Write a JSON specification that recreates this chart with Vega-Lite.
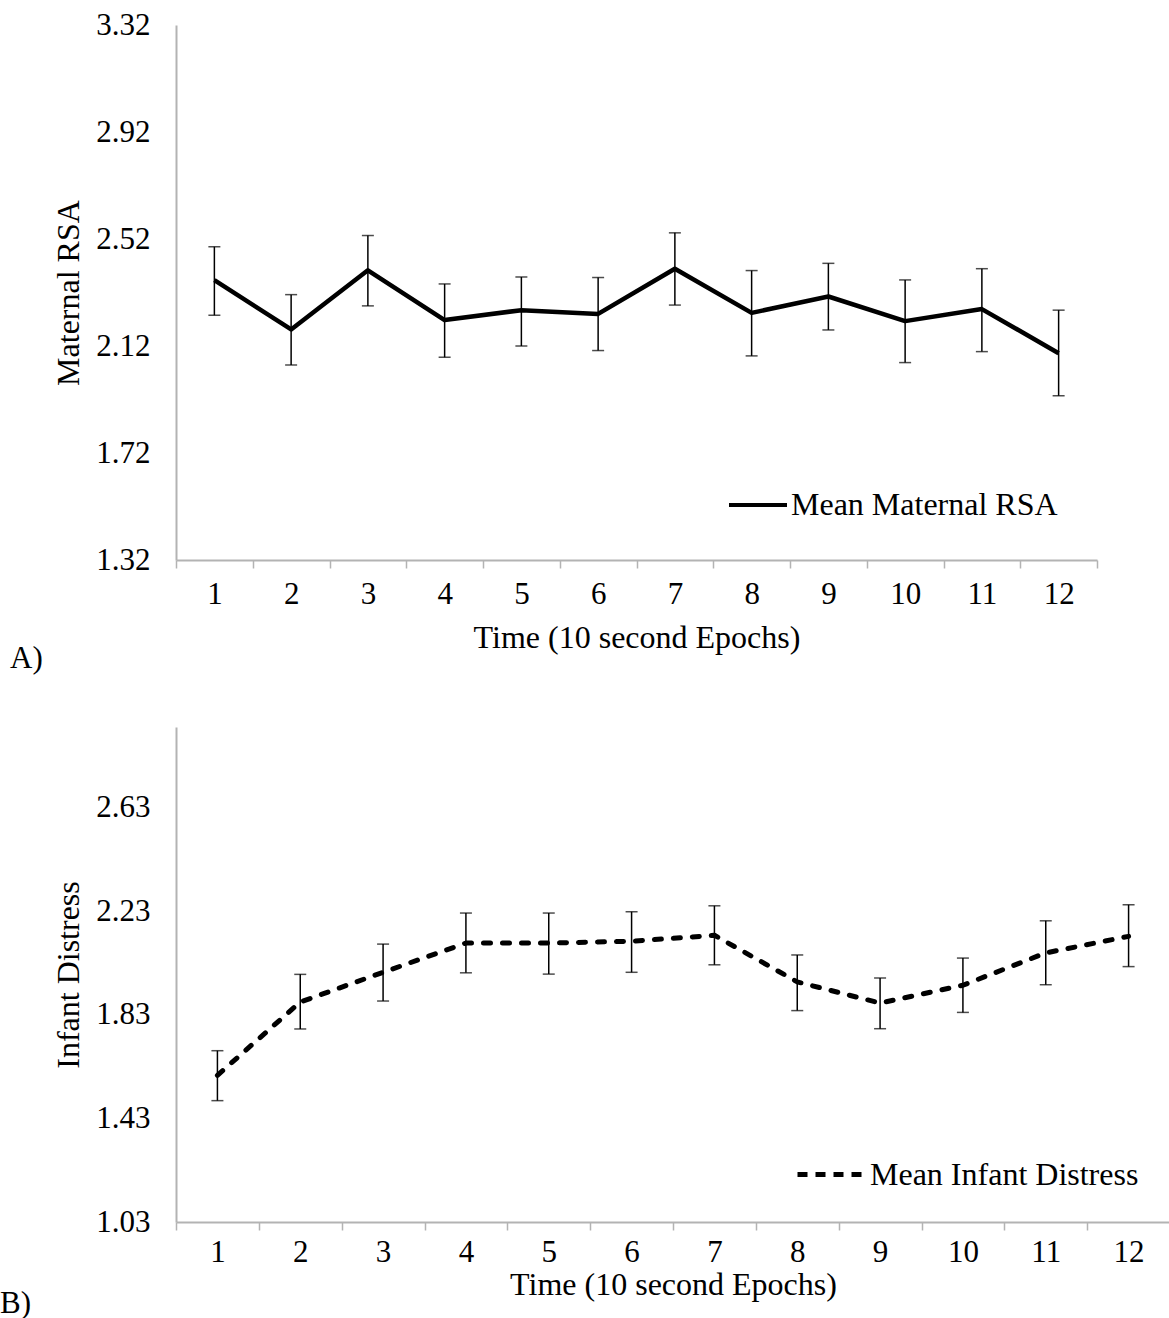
{
  "$schema": "https://vega.github.io/schema/vega-lite/v6.json",
  "padding": {"left": 0, "top": 9, "right": 0, "bottom": 0},
  "background": "white",
  "spacing": 53,
  "config": {
    "font": "Liberation Serif",
    "view": {"stroke": null},
    "axis": {
      "labelFont": "Liberation Serif", "titleFont": "Liberation Serif",
      "labelFontSize": 31, "titleFontSize": 32,
      "labelColor": "#000000", "titleColor": "#000000", "titleFontWeight": "normal",
      "grid": false, "domainColor": "#b3b3b3", "domainWidth": 2,
      "tickColor": "#b3b3b3", "tickWidth": 1.5
    },
    "title": {"font": "Liberation Serif", "fontSize": 31, "fontWeight": "normal", "color": "#000000"},
    "legend": {"labelFont": "Liberation Serif", "labelFontSize": 32, "labelColor": "#000000", "labelLimit": 600, "padding": 0}
  },
  "resolve": {"scale": {"x": "independent", "y": "independent", "color": "independent"}, "legend": {"color": "independent"}},
  "vconcat": [
    {
      "width": 921, "height": 535,
      "title": {"text": "A)", "orient": "bottom", "anchor": "start", "frame": "group", "dx": -166, "offset": -9},
      "data": {"values": [
        {"t": 1, "mean": 2.366, "lo": 2.235, "hi": 2.491, "series": "Mean Maternal RSA"},
        {"t": 2, "mean": 2.182, "lo": 2.049, "hi": 2.312, "series": "Mean Maternal RSA"},
        {"t": 3, "mean": 2.403, "lo": 2.270, "hi": 2.533, "series": "Mean Maternal RSA"},
        {"t": 4, "mean": 2.217, "lo": 2.078, "hi": 2.352, "series": "Mean Maternal RSA"},
        {"t": 5, "mean": 2.254, "lo": 2.120, "hi": 2.378, "series": "Mean Maternal RSA"},
        {"t": 6, "mean": 2.240, "lo": 2.103, "hi": 2.376, "series": "Mean Maternal RSA"},
        {"t": 7, "mean": 2.409, "lo": 2.273, "hi": 2.543, "series": "Mean Maternal RSA"},
        {"t": 8, "mean": 2.244, "lo": 2.083, "hi": 2.402, "series": "Mean Maternal RSA"},
        {"t": 9, "mean": 2.305, "lo": 2.180, "hi": 2.429, "series": "Mean Maternal RSA"},
        {"t": 10, "mean": 2.213, "lo": 2.058, "hi": 2.367, "series": "Mean Maternal RSA"},
        {"t": 11, "mean": 2.258, "lo": 2.099, "hi": 2.409, "series": "Mean Maternal RSA"},
        {"t": 12, "mean": 2.093, "lo": 1.934, "hi": 2.254, "series": "Mean Maternal RSA"}
      ]},
      "encoding": {
        "x": {"field": "t", "type": "ordinal", "scale": {"type": "band", "paddingInner": 0, "paddingOuter": 0},
              "axis": {"title": "Time (10 second Epochs)", "labelAngle": 0, "tickBand": "extent", "tickSize": 8, "labelPadding": 11, "titlePadding": 13}}
      },
      "layer": [
        {"mark": {"type": "rule", "color": "#000000", "strokeWidth": 1.5},
         "encoding": {"y": {"field": "lo", "type": "quantitative"}, "y2": {"field": "hi"}}},
        {"mark": {"type": "tick", "color": "#000000", "size": 12, "thickness": 1.5},
         "encoding": {"y": {"field": "lo", "type": "quantitative"}}},
        {"mark": {"type": "tick", "color": "#000000", "size": 12, "thickness": 1.5},
         "encoding": {"y": {"field": "hi", "type": "quantitative"}}},
        {"mark": {"type": "line", "strokeWidth": 4.5, "strokeJoin": "round"},
         "encoding": {
           "y": {"field": "mean", "type": "quantitative",
                 "scale": {"domain": [1.32, 3.32], "nice": false, "zero": false},
                 "axis": {"title": "Maternal RSA", "values": [1.32, 1.72, 2.12, 2.52, 2.92, 3.32], "format": ".2f",
                          "ticks": false, "tickSize": 0, "labelPadding": 26, "titlePadding": 10, "labelFlush": false, "labelOverlap": false}},
           "color": {"field": "series", "type": "nominal", "scale": {"range": ["#000000"]},
                     "legend": {"title": null, "orient": "bottom-right", "offset": 39, "symbolType": "stroke", "symbolSize": 3364, "symbolStrokeWidth": 4, "labelOffset": 2}}
         }}
      ]
    },
    {
      "width": 994, "height": 495,
      "title": {"text": "B)", "orient": "bottom", "anchor": "start", "frame": "group", "dx": -176, "offset": -11},
      "data": {"values": [
        {"t": 1, "mean": 1.597, "lo": 1.499, "hi": 1.692, "series": "Mean Infant Distress"},
        {"t": 2, "mean": 1.880, "lo": 1.776, "hi": 1.987, "series": "Mean Infant Distress"},
        {"t": 3, "mean": 1.995, "lo": 1.884, "hi": 2.104, "series": "Mean Infant Distress"},
        {"t": 4, "mean": 2.108, "lo": 1.993, "hi": 2.224, "series": "Mean Infant Distress"},
        {"t": 5, "mean": 2.108, "lo": 1.988, "hi": 2.224, "series": "Mean Infant Distress"},
        {"t": 6, "mean": 2.115, "lo": 1.995, "hi": 2.229, "series": "Mean Infant Distress"},
        {"t": 7, "mean": 2.138, "lo": 2.024, "hi": 2.252, "series": "Mean Infant Distress"},
        {"t": 8, "mean": 1.958, "lo": 1.847, "hi": 2.062, "series": "Mean Infant Distress"},
        {"t": 9, "mean": 1.876, "lo": 1.777, "hi": 1.973, "series": "Mean Infant Distress"},
        {"t": 10, "mean": 1.945, "lo": 1.840, "hi": 2.050, "series": "Mean Infant Distress"},
        {"t": 11, "mean": 2.070, "lo": 1.947, "hi": 2.194, "series": "Mean Infant Distress"},
        {"t": 12, "mean": 2.134, "lo": 2.017, "hi": 2.256, "series": "Mean Infant Distress"}
      ]},
      "encoding": {
        "x": {"field": "t", "type": "ordinal", "scale": {"type": "band", "paddingInner": 0, "paddingOuter": 0},
              "axis": {"title": "Time (10 second Epochs)", "labelAngle": 0, "tickBand": "extent", "tickSize": 8, "labelPadding": 7, "titlePadding": 2}}
      },
      "layer": [
        {"mark": {"type": "rule", "color": "#000000", "strokeWidth": 1.5},
         "encoding": {"y": {"field": "lo", "type": "quantitative"}, "y2": {"field": "hi"}}},
        {"mark": {"type": "tick", "color": "#000000", "size": 12, "thickness": 1.5},
         "encoding": {"y": {"field": "lo", "type": "quantitative"}}},
        {"mark": {"type": "tick", "color": "#000000", "size": 12, "thickness": 1.5},
         "encoding": {"y": {"field": "hi", "type": "quantitative"}}},
        {"mark": {"type": "line", "strokeWidth": 5, "strokeJoin": "round", "strokeCap": "round", "strokeDash": [7, 12]},
         "encoding": {
           "y": {"field": "mean", "type": "quantitative",
                 "scale": {"domain": [1.03, 2.943], "nice": false, "zero": false},
                 "axis": {"title": "Infant Distress", "values": [1.03, 1.43, 1.83, 2.23, 2.63], "format": ".2f",
                          "ticks": false, "tickSize": 0, "labelPadding": 26, "titlePadding": 10, "labelFlush": false, "labelOverlap": false}},
           "color": {"field": "series", "type": "nominal", "scale": {"range": ["#000000"]},
                     "legend": {"title": null, "orient": "bottom-right", "offset": 31, "symbolType": "stroke", "symbolSize": 4900, "symbolStrokeWidth": 5, "symbolDash": [10, 8], "labelOffset": 0}}
         }}
      ]
    }
  ]
}
